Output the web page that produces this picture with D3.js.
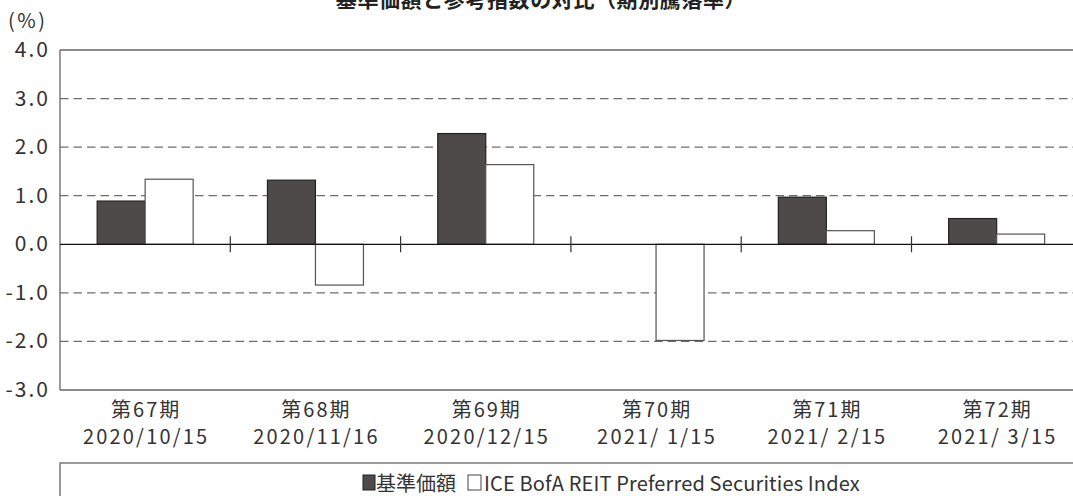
<!DOCTYPE html>
<html><head><meta charset="utf-8">
<script src="https://cdn.jsdelivr.net/npm/d3@7"></script>
<style>
html,body{margin:0;padding:0;background:#fff;}
svg{display:block;font-family:"Noto Sans CJK JP","Noto Sans",sans-serif;}
</style></head>
<body><svg id="c" width="1073" height="496"></svg>
<script>
const categories = ["第67期","第68期","第69期","第70期","第71期","第72期"];
const dates = ["2020/10/15","2020/11/16","2020/12/15","2021/ 1/15","2021/ 2/15","2021/ 3/15"];
const seriesNames = ["基準価額","ICE BofA REIT Preferred Securities Index"];
const fundValues = [0.89, 1.32, 2.28, 0.00, 0.97, 0.53];
const indexValues = [1.34, -0.84, 1.64, -1.98, 0.28, 0.21];
const yTicks = [4, 3, 2, 1, 0, -1, -2, -3];
const title = "基準価額と参考指数の対比（期別騰落率）";

const svg = d3.select("#c");
const plotLeft = 60, plotTop = 50, plotBottom = 390, bandW = 170.3;
const y = d3.scaleLinear().domain([-3, 4]).range([plotBottom, plotTop]);
const x = d3.scaleBand().domain(categories).range([plotLeft, plotLeft + bandW * categories.length]);
const barW = 48;
const xs = d3.scaleBand().domain([0, 1]).range([0, barW * 2]);
const colors = ["#4d4a49", "#ffffff"];
const textCol = "#333";
const fmt = v => d3.format(".1f")(v).replace("\u2212", "-");

// title
svg.append("text").attr("x", 541).attr("y", 7).attr("text-anchor", "middle")
  .attr("font-size", 21).attr("font-weight", "bold").attr("letter-spacing", 0.6).attr("fill", "#222").text(title);
svg.append("text").attr("x", 8).attr("y", 28).attr("font-size", 20).attr("letter-spacing", 2.5).attr("fill", textCol).text("(%)");

// grid lines
const g = svg.append("g");
yTicks.filter(t => t !== 0 && t !== 4 && t !== -3).forEach(t => {
  g.append("line").attr("x1", plotLeft).attr("x2", 1073).attr("y1", y(t)).attr("y2", y(t))
    .attr("stroke", "#6e6e6e").attr("stroke-width", 1.3).attr("stroke-dasharray", "8.5,5");
});
// frame
g.append("line").attr("x1", plotLeft).attr("x2", 1073).attr("y1", y(4)).attr("y2", y(4)).attr("stroke", "#666").attr("stroke-width", 1.3);
g.append("line").attr("x1", plotLeft).attr("x2", 1073).attr("y1", y(-3)).attr("y2", y(-3)).attr("stroke", "#666").attr("stroke-width", 1.3);
g.append("line").attr("x1", plotLeft).attr("x2", plotLeft).attr("y1", y(4)).attr("y2", y(-3)).attr("stroke", "#666").attr("stroke-width", 1.3);

// y tick labels
yTicks.forEach(t => {
  svg.append("text").attr("x", 50).attr("y", y(t) + 7).attr("text-anchor", "end")
    .attr("font-size", 21).attr("letter-spacing", 2).attr("fill", textCol).text(fmt(t));
});

// bars
const data = categories.map((c, i) => ({c, vals: [fundValues[i], indexValues[i]]}));
data.forEach(d => {
  const cx = x(d.c) + x.bandwidth() / 2 - barW;
  d.vals.forEach((v, k) => {
    if (v === 0) return;
    svg.append("rect").attr("x", cx + xs(k)).attr("width", xs.bandwidth())
      .attr("y", y(Math.max(0, v))).attr("height", Math.abs(y(v) - y(0)))
      .attr("fill", colors[k]).attr("stroke", k === 0 ? "#222" : "#555").attr("stroke-width", 1.2);
  });
});

// zero line
svg.append("line").attr("x1", plotLeft).attr("x2", 1073).attr("y1", y(0)).attr("y2", y(0)).attr("stroke", "#111").attr("stroke-width", 1.3);
// category separator ticks
categories.slice(1).forEach(c => {
  svg.append("line").attr("x1", x(c)).attr("x2", x(c)).attr("y1", y(0) - 8).attr("y2", y(0) + 8)
    .attr("stroke", "#333").attr("stroke-width", 1.2);
});

// x labels
categories.forEach((c, i) => {
  const cx = x(c) + x.bandwidth() / 2 + 1;
  svg.append("text").attr("x", cx).attr("y", 417).attr("text-anchor", "middle").attr("font-size", 20).attr("letter-spacing", 2).attr("fill", textCol).text(c);
  svg.append("text").attr("x", cx).attr("y", 444).attr("text-anchor", "middle").attr("font-size", 20).attr("letter-spacing", 2.2).attr("fill", textCol).style("white-space", "pre").text(dates[i]);
});

// legend
svg.append("rect").attr("x", plotLeft).attr("y", 463).attr("width", 1073).attr("height", 60).attr("fill", "none").attr("stroke", "#666").attr("stroke-width", 1.3);
const lg = svg.append("g");
lg.append("rect").attr("x", 363).attr("y", 475).attr("width", 12).attr("height", 15).attr("fill", colors[0]).attr("stroke", "#222");
lg.append("text").attr("x", 376).attr("y", 491).attr("font-size", 20).attr("fill", textCol).text(seriesNames[0]);
lg.append("rect").attr("x", 468).attr("y", 475).attr("width", 13).attr("height", 15).attr("fill", colors[1]).attr("stroke", "#444");
lg.append("text").attr("x", 484).attr("y", 491).attr("font-size", 20).attr("letter-spacing", 0.15).attr("fill", textCol).text(seriesNames[1]);
</script></body></html>
